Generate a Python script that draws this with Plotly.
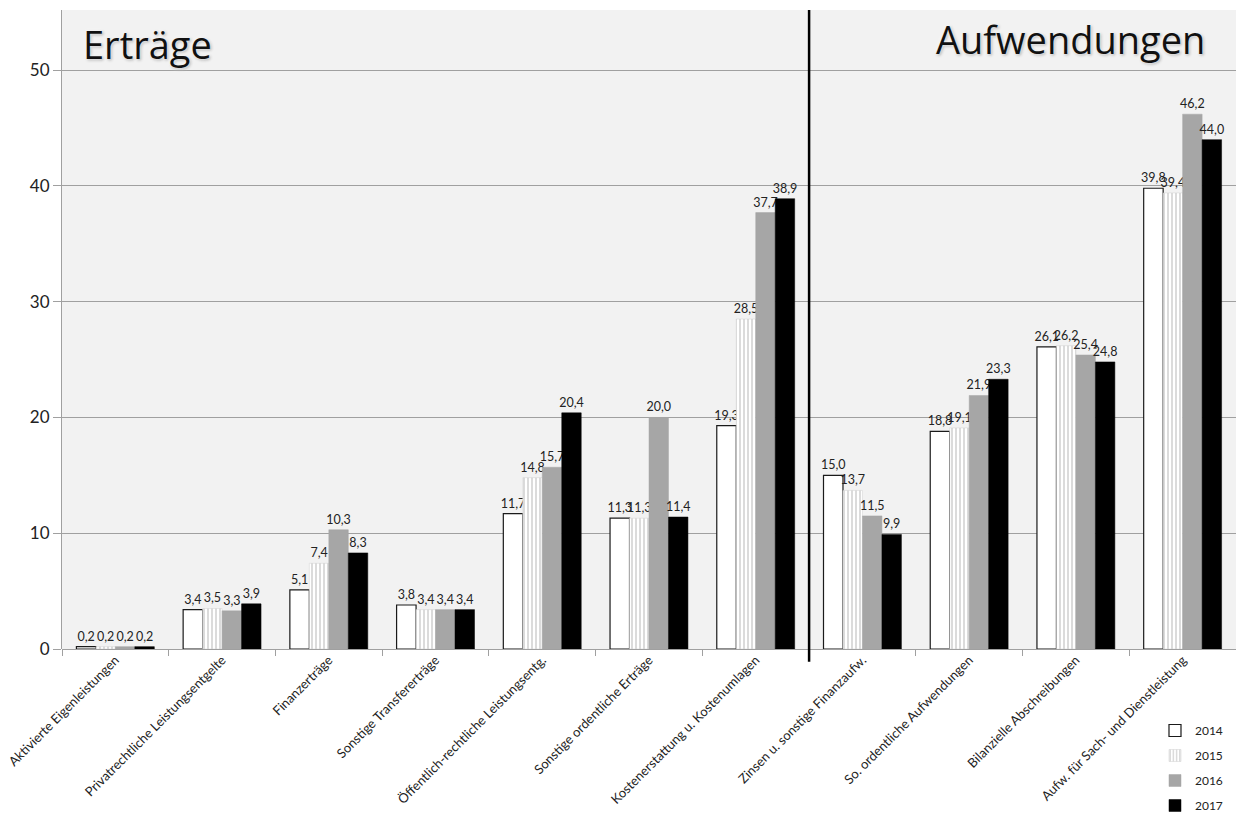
import plotly.graph_objects as go

categories = [
    "Aktivierte Eigenleistungen",
    "Privatrechtliche Leistungsentgelte",
    "Finanzerträge",
    "Sonstige Transfererträge",
    "Öffentlich-rechtliche Leistungsentg.",
    "Sonstige ordentliche Erträge",
    "Kostenerstattung u. Kostenumlagen",
    "Zinsen u. sonstige Finanzaufw.",
    "So. ordentliche Aufwendungen",
    "Bilanzielle Abschreibungen",
    "Aufw. für Sach- und Dienstleistung",
]

years = ["2014", "2015", "2016", "2017"]

values_2014 = [0.2, 3.4, 5.1, 3.8, 11.7, 11.3, 19.3, 15.0, 18.8, 26.1, 39.8]
values_2015 = [0.2, 3.5, 7.4, 3.4, 14.8, 11.3, 28.5, 13.7, 19.1, 26.2, 39.4]
values_2016 = [0.2, 3.3, 10.3, 3.4, 15.7, 20.0, 37.7, 11.5, 21.9, 25.4, 46.2]
values_2017 = [0.2, 3.9, 8.3, 3.4, 20.4, 11.4, 38.9, 9.9, 23.3, 24.8, 44.0]

series = [values_2014, values_2015, values_2016, values_2017]

styles = [
    dict(color="#ffffff", line=dict(color="#1a1a1a", width=1.2)),
    dict(color="#ffffff", line=dict(color="#d0d0d0", width=0.5),
         pattern=dict(shape="|", fgcolor="#b8b8b8", bgcolor="#ffffff", size=4, solidity=0.5)),
    dict(color="#a6a6a6", line=dict(color="#a6a6a6", width=0.5)),
    dict(color="#000000", line=dict(color="#000000", width=0.5)),
]

FONT = "Lato, Open Sans, Liberation Sans, sans-serif"


def fmt(v):
    return f"{v:.1f}".replace(".", ",")


fig = go.Figure()
for year, vals, st in zip(years, series, styles):
    fig.add_trace(go.Bar(
        name=year,
        x=categories,
        y=vals,
        marker=st,
        text=[fmt(v) for v in vals],
        textposition="outside",
        textfont=dict(size=12.5, color="#222222", family=FONT),
        cliponaxis=False,
        legendgroup=year,
    ))

fig.update_layout(
    width=1236,
    height=820,
    margin=dict(l=62, r=0, t=10, b=171),
    paper_bgcolor="#ffffff",
    plot_bgcolor="#f2f2f2",
    barmode="group",
    bargap=0.27,
    bargroupgap=0,
    font=dict(family=FONT, color="#222222"),
    uniformtext=dict(minsize=10, mode="show"),
    legend=dict(
        xref="paper", yref="container",
        x=0.931, xanchor="left",
        y=0.0, yanchor="bottom",
        bgcolor="rgba(0,0,0,0)",
        font=dict(size=12, family=FONT, color="#222222"),
        tracegroupgap=6,
        itemwidth=30,
    ),
    showlegend=True,
)

fig.update_xaxes(
    tickangle=-45,
    tickfont=dict(size=13, family=FONT, color="#222222"),
    ticks="outside",
    tickson="boundaries",
    ticklen=6,
    tickcolor="#a0a0a0",
    showline=False,
    showgrid=False,
    automargin=False,
)

fig.update_yaxes(
    range=[0, 55.2],
    tickvals=[0, 10, 20, 30, 40, 50],
    tickfont=dict(size=17, family=FONT, color="#222222"),
    ticks="outside",
    ticklen=8,
    tickcolor="#a0a0a0",
    showline=True,
    linecolor="#a0a0a0",
    linewidth=1,
    showgrid=True,
    gridcolor="#a0a0a0",
    gridwidth=1,
    zeroline=True,
    zerolinecolor="#a0a0a0",
    zerolinewidth=1,
    automargin=False,
)

# divider between income and expense groups
fig.add_shape(
    type="line", xref="x", yref="paper",
    x0=6.5, x1=6.5, y0=-0.02, y1=1.0,
    line=dict(color="#000000", width=2.5),
)

title_font = dict(size=38, family="Open Sans, sans-serif", color="#111111",
                  shadow="0 0 2px #ffffff, 0 0 4px #ffffff, 1px 1px 3px #888888")
fig.add_annotation(text="Erträge", xref="paper", yref="paper",
                   x=0.016, y=0.99, xanchor="left", yanchor="top",
                   showarrow=False, font=title_font)
fig.add_annotation(text="Aufwendungen", xref="paper", yref="paper",
                   x=0.975, y=0.998, xanchor="right", yanchor="top",
                   showarrow=False, font=title_font)

fig.write_html("out.html")
